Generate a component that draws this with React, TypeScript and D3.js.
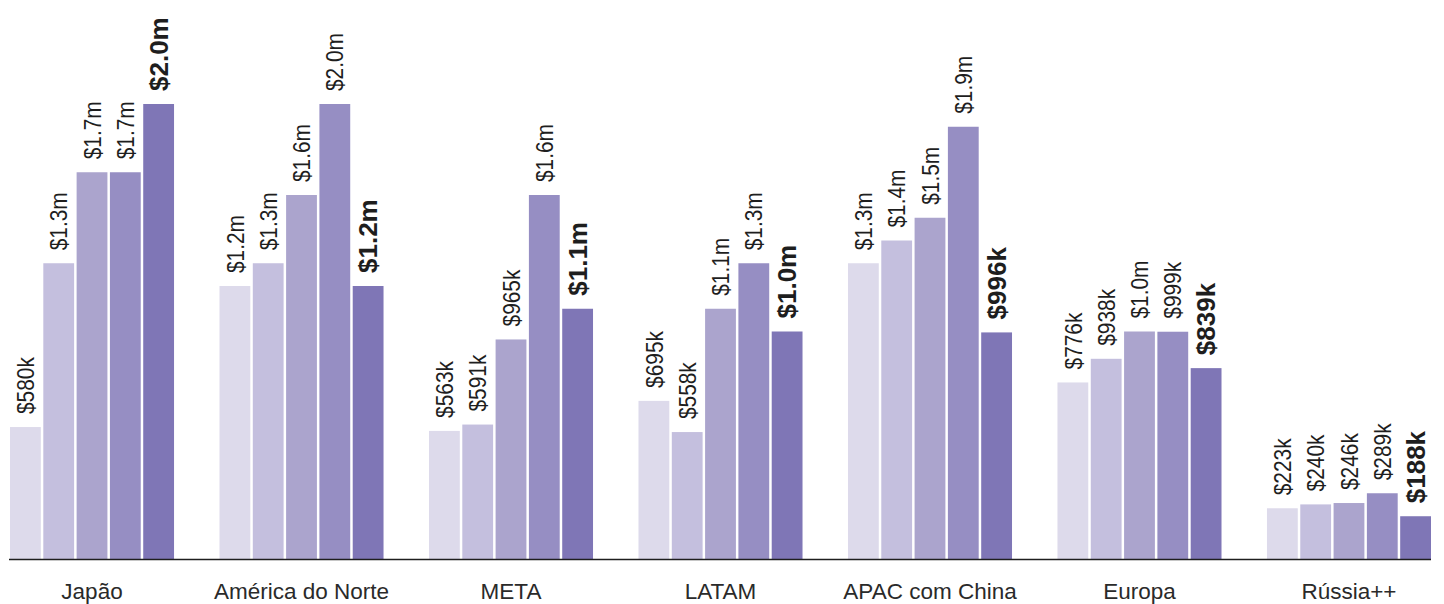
import React from "react";
import * as d3 from "d3";

const categories = ["Japão", "América do Norte", "META", "LATAM", "APAC com China", "Europa", "Rússia++"];
const seriesKeys = ["s1", "s2", "s3", "s4", "s5"];
const s1 = [580, 1200, 563, 695, 1300, 776, 223];
const s2 = [1300, 1300, 591, 558, 1400, 880, 240];
const s3 = [1700, 1600, 965, 1100, 1500, 1000, 246];
const s4 = [1700, 2000, 1600, 1300, 1900, 999, 289];
const s5 = [2000, 1200, 1100, 1000, 996, 839, 188];
const l1 = ["$580k", "$1.2m", "$563k", "$695k", "$1.3m", "$776k", "$223k"];
const l2 = ["$1.3m", "$1.3m", "$591k", "$558k", "$1.4m", "$938k", "$240k"];
const l3 = ["$1.7m", "$1.6m", "$965k", "$1.1m", "$1.5m", "$1.0m", "$246k"];
const l4 = ["$1.7m", "$2.0m", "$1.6m", "$1.3m", "$1.9m", "$999k", "$289k"];
const l5 = ["$2.0m", "$1.2m", "$1.1m", "$1.0m", "$996k", "$839k", "$188k"];
const colors = ["#dddaeb", "#c4bfde", "#aba4cd", "#968ec3", "#7f76b6"];

const W = 1444;
const H = 604;

export default function App() {
  const values = [s1, s2, s3, s4, s5];
  const labels = [l1, l2, l3, l4, l5];
  const x0 = d3.scaleBand<string>().domain(categories).range([10, 1431]).paddingInner(0.217).paddingOuter(0);
  const x1 = d3.scaleBand<string>().domain(seriesKeys).range([0, x0.bandwidth()]).paddingInner(0.075).paddingOuter(0);
  const y = d3.scaleLinear().domain([0, 2000]).range([559, 104]);
  const font = "'Liberation Sans', Arial, sans-serif";

  return (
    <svg width={W} height={H} style={{ position: "absolute", left: 0, top: 0, background: "#fff" }}>
      {categories.map((c, ci) => (
        <g key={c} transform={`translate(${x0(c)},0)`}>
          {seriesKeys.map((k, si) => {
            const v = values[si][ci];
            const bx = x1(k)!;
            const bw = x1.bandwidth();
            const top = y(v);
            const cx = bx + bw / 2;
            const bold = si === 4;
            return (
              <g key={k}>
                <rect x={bx} y={top} width={bw} height={y(0) - top} fill={colors[si]} />
                <text
                  transform={`translate(${cx},${top - 13}) rotate(-90) scale(${bold ? 1 : 0.87},1)`}
                  dy="0.36em"
                  textAnchor="start"
                  fontFamily={font}
                  fontSize={bold ? 26 : 24}
                  fontWeight={bold ? 700 : 400}
                  fill="#1e1e1e"
                >
                  {labels[si][ci]}
                </text>
              </g>
            );
          })}
          <text
            x={x0.bandwidth() / 2}
            y={599}
            textAnchor="middle"
            fontFamily={font}
            fontSize={22.5}
            fill="#2a2a2a"
          >
            {c}
          </text>
        </g>
      ))}
      <line x1={9} x2={1431} y1={559.5} y2={559.5} stroke="#1e1e1e" strokeWidth={1.3} />
    </svg>
  );
}
